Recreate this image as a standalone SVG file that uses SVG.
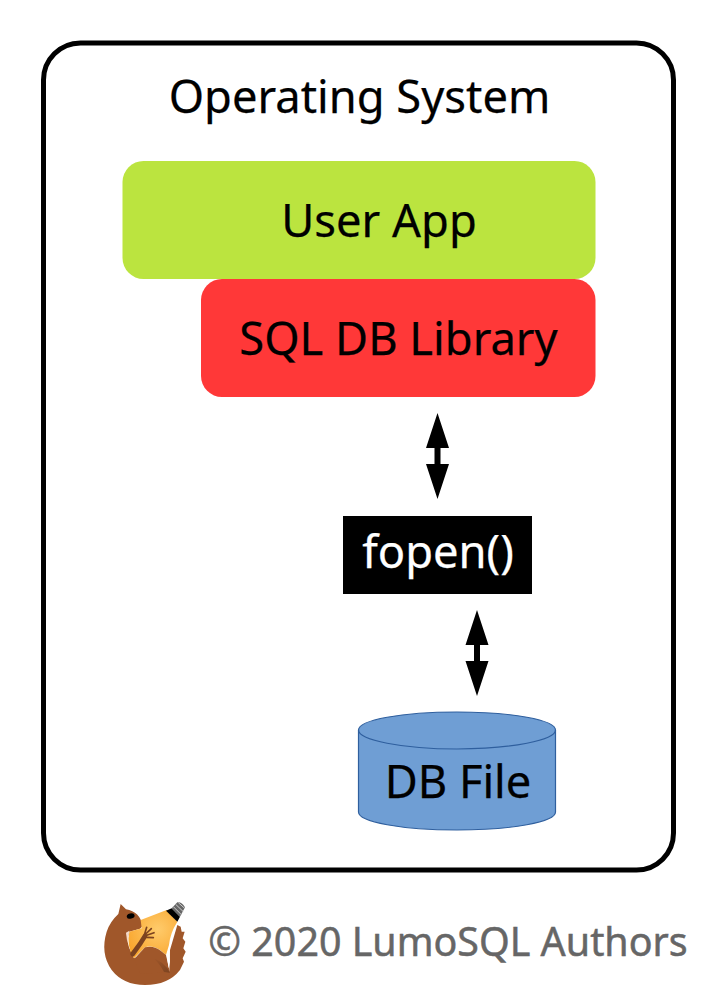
<svg xmlns="http://www.w3.org/2000/svg" width="717" height="993" viewBox="0 0 717 993">
<style>
text{font-family:"Noto Sans","Open Sans","Liberation Sans",sans-serif;text-anchor:middle;fill:#000}
.big{font-size:45.300px;stroke:#000;stroke-width:.25px}
.arrow{fill:#000}
.hand{fill:none;stroke:#7c4320;stroke-linecap:round}
</style>
<defs>
<radialGradient id="glow" cx="0.6" cy="0.4" r="0.7"><stop offset="0" stop-color="#ffcb6b"/><stop offset="1" stop-color="#f9a52c"/></radialGradient>
<linearGradient id="haunch" x1="0" y1="0" x2="1" y2="1"><stop offset="0" stop-color="#a0572a"/><stop offset="1" stop-color="#7c4320"/></linearGradient>
</defs>
<rect width="717" height="993" fill="#fff"/>
<g id="os">
<rect x="43.500" y="43" width="630" height="827" rx="37" ry="37" fill="#fff" stroke="#000" stroke-width="5"/>
<text class="big" x="359.500" y="113">Operating System</text>
</g>
<g id="user-app">
<rect x="122.500" y="161" width="473" height="118" rx="21" fill="#bbe43f"/>
<text class="big" x="379" y="237">User App</text>
</g>
<g id="sql-lib">
<rect x="201" y="279" width="394.500" height="118" rx="21" fill="#ff3838"/>
<text class="big" x="398.500" y="355">SQL DB Library</text>
</g>
<g id="fopen">
<rect x="343" y="516" width="189" height="78" fill="#000"/>
<text class="big" x="438" y="568" style="fill:#fff;stroke:#fff">fopen()</text>
</g>
<g id="db-file">
<path d="M358.500 730C358.500 720 402 712 457 712S555.500 720 555.500 730V812C555.500 822 512 830 457 830S358.500 822 358.500 812Z" fill="#6f9ed4" stroke="#2f5f9e" stroke-width="1.200"/>
<path d="M358.500 730C358.500 740 402 749 457 749S555.500 740 555.500 730" fill="none" stroke="#2f5f9e" stroke-width="1.200"/>
<text class="big" x="458" y="798">DB File</text>
</g>
<g id="connectors">
<path class="arrow" d="M437.500 413L449 448H440.500V464H449L437.500 499L426 464H434.500V448H426Z"/>
<path class="arrow" d="M477 610L488.500 645H480V661H488.500L477 696L465.500 661H474V645H465.500Z"/>
</g>
<g id="logo" transform="translate(90 890) scale(.33333)">
<path d="M85 72L92 42L108 58Q150 65 158 108L150 116L118 125Q108 150 118 175L132 205L175 190L215 200L238 245L240 180L262 105L272 110L275 125L284 125L278 145L286 155L280 175L287 185L278 205L282 215L270 240Q235 285 165 285Q100 285 65 240Q30 190 50 125Q60 95 85 72Z" fill="#a0572a"/>
<path d="M152 90L230 60L262 95Q240 130 237 165L228 195L210 180Q185 165 165 172L132 205Q108 165 118 125L155 115Z" fill="url(#glow)"/>
<path d="M228 62L245 55L270 80L262 95Z" fill="#000"/>
<path d="M245 55L262 37Q275 35 285 52L270 80Z" fill="#666"/>
<path d="M250 50L275 75M257 43L280 65M265 38L284 55" stroke="#ccc" stroke-width="3" fill="none"/>
<path d="M132 208L165 172Q190 165 212 182L228 195L240 248L150 250Z" fill="#a0572a"/>
<path d="M190 205Q222 215 240 248L222 246Q210 222 190 205Z" fill="url(#haunch)"/>
<path class="hand" stroke-width="14" d="M128 192L150 162L165 138"/>
<path class="hand" stroke-width="5" d="M163 135L170 112M167 132L184 116M170 136L192 128M170 142L190 143"/>
<path d="M108 128L118 122L112 160Z" fill="#f3d9c8"/>
<path d="M230 197L238 172L240 215L236 235Z" fill="#fff"/>
<ellipse cx="122" cy="78" rx="12" ry="8" transform="rotate(-15 122 78)" fill="#000"/>
</g>
<g id="copyright">
<text x="448" y="955.500" style="font-size:39.400px;fill:#666;stroke:#666;stroke-width:.5px">© 2020 LumoSQL Authors</text>
</g>
</svg>
